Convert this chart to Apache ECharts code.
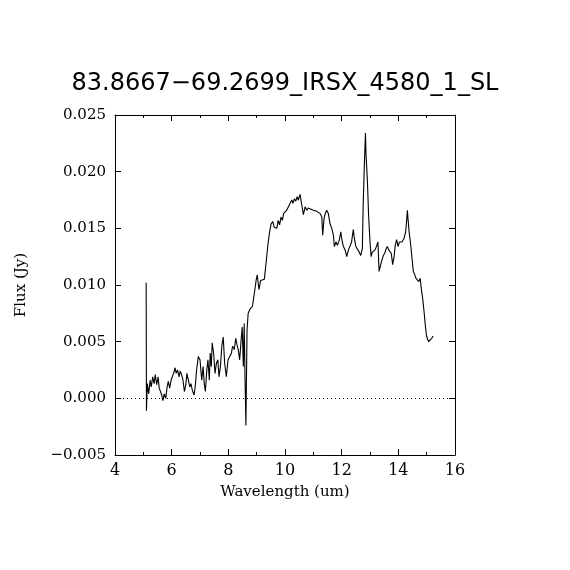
<!DOCTYPE html>
<html>
<head>
<meta charset="utf-8">
<script src="https://cdn.jsdelivr.net/npm/echarts@6/dist/echarts.min.js"></script>
<style>
  html, body { margin: 0; padding: 0; background: #fff; }
  #main { width: 570px; height: 570px; }
</style>
</head>
<body>
<div id="main"></div>
<script>
// 标题与坐标轴
var titleText = '83.8667\u221269.2699_IRSX_4580_1_SL';
var xName = 'Wavelength (um)';
var yName = 'Flux (Jy)';

// 波长 (um)
var wavelength = [
  5.10, 5.11, 5.14, 5.19, 5.24, 5.28, 5.33, 5.38, 5.42, 5.47, 5.52, 5.56, 5.61, 5.65, 5.69, 5.74, 5.79,
  5.84, 5.88, 5.93, 5.98, 6.02, 6.07, 6.12, 6.16, 6.21, 6.26, 6.30, 6.35, 6.40, 6.45, 6.50, 6.54, 6.59,
  6.64, 6.68, 6.73, 6.79, 6.83, 6.88, 6.94, 7.00, 7.06, 7.11, 7.15, 7.19, 7.24, 7.28, 7.33, 7.36, 7.40,
  7.43, 7.48, 7.53, 7.58, 7.63, 7.67, 7.72, 7.77, 7.82, 7.87, 7.93, 7.99, 8.05, 8.11, 8.15, 8.21, 8.26,
  8.31, 8.35, 8.40, 8.45, 8.49, 8.53, 8.56, 8.59, 8.62, 8.66, 8.70, 8.77, 8.85, 8.92, 8.98, 9.02, 9.08,
  9.14, 9.20, 9.27, 9.33, 9.39, 9.45, 9.51, 9.57, 9.62, 9.71, 9.76, 9.81, 9.86, 9.91, 9.95, 10.00, 10.06,
  10.12, 10.18, 10.24, 10.28, 10.33, 10.38, 10.43, 10.47, 10.53, 10.59, 10.65, 10.71, 10.77, 10.82, 10.88,
  11.00, 11.12, 11.24, 11.30, 11.33, 11.38, 11.41, 11.47, 11.53, 11.59, 11.65, 11.71, 11.74, 11.80, 11.85,
  11.92, 11.97, 12.00, 12.06, 12.12, 12.18, 12.24, 12.30, 12.35, 12.41, 12.45, 12.50, 12.57, 12.62, 12.67,
  12.73, 12.76, 12.80, 12.84, 12.86, 12.91, 12.95, 13.00, 13.04, 13.08, 13.12, 13.18, 13.24, 13.28, 13.32,
  13.36, 13.41, 13.47, 13.52, 13.57, 13.61, 13.66, 13.71, 13.75, 13.80, 13.85, 13.89, 13.94, 13.99, 14.04,
  14.08, 14.13, 14.20, 14.26, 14.29, 14.32, 14.34, 14.38, 14.41, 14.45, 14.48, 14.53, 14.58, 14.62, 14.67,
  14.72, 14.77, 14.81, 14.86, 14.91, 14.95, 14.99, 15.02, 15.07, 15.12, 15.18, 15.23
];

// 流量 (Jy)
var flux = [
  0.0102, -0.0011, 0.0013, 0.0004, 0.0016, 0.0010, 0.0019, 0.0013, 0.0021, 0.0012, 0.0019, 0.0009, 0.0010, 0.0003, -0.0002, 0.0004, 0.0000,
  0.0010, 0.0015, 0.0009, 0.0016, 0.0019, 0.0022, 0.0027, 0.0022, 0.0025, 0.0019, 0.0024, 0.0021, 0.0016, 0.0006, 0.0012, 0.0022, 0.0016,
  0.0010, 0.0013, 0.0007, 0.0003, 0.0010, 0.0025, 0.0037, 0.0034, 0.0016, 0.0028, 0.0013, 0.0006, 0.0025, 0.0034, 0.0016, 0.0040, 0.0028,
  0.0049, 0.0040, 0.0022, 0.0031, 0.0034, 0.0019, 0.0028, 0.0046, 0.0054, 0.0031, 0.0019, 0.0034, 0.0037, 0.0040, 0.0046, 0.0043, 0.0053,
  0.0047, 0.0043, 0.0034, 0.0051, 0.0063, 0.0028, 0.0066, 0.0016, -0.0024, 0.0060, 0.0075, 0.0079, 0.0081, 0.0093, 0.0104, 0.0109, 0.0096,
  0.0104, 0.0104, 0.0105, 0.0119, 0.0134, 0.0146, 0.0154, 0.0156, 0.0151, 0.0150, 0.0157, 0.0153, 0.0160, 0.0157, 0.0163, 0.0162, 0.0166,
  0.0169, 0.0168, 0.0175, 0.0172, 0.0176, 0.0174, 0.0178, 0.0175, 0.0180, 0.0171, 0.0162, 0.0169, 0.0166, 0.0168, 0.0169,
  0.0166, 0.0165, 0.0163, 0.0160, 0.0144, 0.0159, 0.0162, 0.0166, 0.0163, 0.0154, 0.0150, 0.0144, 0.0134, 0.0138, 0.0135,
  0.0140, 0.0147, 0.0141, 0.0134, 0.0131, 0.0125, 0.0131, 0.0132, 0.0138, 0.0149, 0.0141, 0.0134, 0.0135, 0.0129, 0.0126,
  0.0132, 0.0171, 0.0206, 0.0234, 0.0215, 0.0191, 0.0162, 0.0138, 0.0125, 0.0129, 0.0128, 0.0131, 0.0135, 0.0138, 0.0112,
  0.0113, 0.0121, 0.0126, 0.0128, 0.0132, 0.0134, 0.0131, 0.0132, 0.0128, 0.0118, 0.0125, 0.0135, 0.0140, 0.0134, 0.0138,
  0.0137, 0.0138, 0.0141, 0.0147, 0.0156, 0.0166, 0.0159, 0.0147, 0.0141, 0.0132, 0.0124, 0.0112, 0.0109, 0.0106, 0.0107,
  0.0103, 0.0106, 0.0097, 0.0088, 0.0076, 0.0065, 0.0056, 0.0053, 0.0050, 0.0051, 0.0053, 0.0055
];

var points = wavelength.map(function (w, i) { return [w, flux[i]]; });

var labelFont = 'DejaVu Serif';

var myChart = echarts.init(document.getElementById('main'), null, { renderer: 'canvas' });

function yFmt(v) {
  return v.toFixed(3).replace('-', '\u2212');
}

var axisLine = { show: true, onZero: false, lineStyle: { color: '#000', width: 1 } };
var axisTick = { show: true, inside: true, length: 6, lineStyle: { color: '#000', width: 1 } };
var minorTick = { show: true, splitNumber: 2, length: 3, lineStyle: { color: '#000', width: 1 } };

var option = {
  animation: false,
  backgroundColor: '#fff',
  title: {
    text: titleText,
    left: 'center',
    top: 67,
    textStyle: { fontFamily: 'DejaVu Sans', fontSize: 24, fontWeight: 'normal', color: '#000' }
  },
  grid: { left: 115, top: 115, width: 340, height: 340, containLabel: false, show: false },
  xAxis: [{
    type: 'value',
    min: 4, max: 16, interval: 2,
    name: xName,
    nameLocation: 'middle',
    nameGap: 30,
    nameTextStyle: { fontFamily: labelFont, fontSize: 15, color: '#000' },
    axisLine: axisLine,
    axisTick: axisTick,
    minorTick: minorTick,
    splitLine: { show: false },
    axisLabel: { margin: 8, fontFamily: labelFont, fontSize: 16, color: '#000' }
  }, {
    type: 'value',
    position: 'top',
    min: 4, max: 16, interval: 2,
    axisLine: axisLine,
    axisTick: axisTick,
    minorTick: minorTick,
    splitLine: { show: false },
    axisLabel: { show: false }
  }],
  yAxis: [{
    type: 'value',
    min: -0.005, max: 0.025, interval: 0.005,
    name: yName,
    nameLocation: 'middle',
    nameGap: 86,
    nameTextStyle: { fontFamily: labelFont, fontSize: 15, color: '#000' },
    axisLine: axisLine,
    axisTick: axisTick,
    splitLine: { show: false },
    axisLabel: { margin: 9, fontFamily: labelFont, fontSize: 15, color: '#000', formatter: yFmt }
  }, {
    type: 'value',
    position: 'right',
    min: -0.005, max: 0.025, interval: 0.005,
    axisLine: axisLine,
    axisTick: axisTick,
    splitLine: { show: false },
    axisLabel: { show: false }
  }],
  series: [{
    type: 'line',
    data: points,
    xAxisIndex: 0,
    yAxisIndex: 0,
    showSymbol: false,
    symbol: 'none',
    lineStyle: { color: '#000', width: 1.1 },
    markLine: {
      silent: true,
      symbol: 'none',
      label: { show: false },
      lineStyle: { color: '#000', width: 1, type: [1, 3] },
      data: [{ yAxis: 0 }]
    }
  }]
};

myChart.setOption(option);
</script>
</body>
</html>
